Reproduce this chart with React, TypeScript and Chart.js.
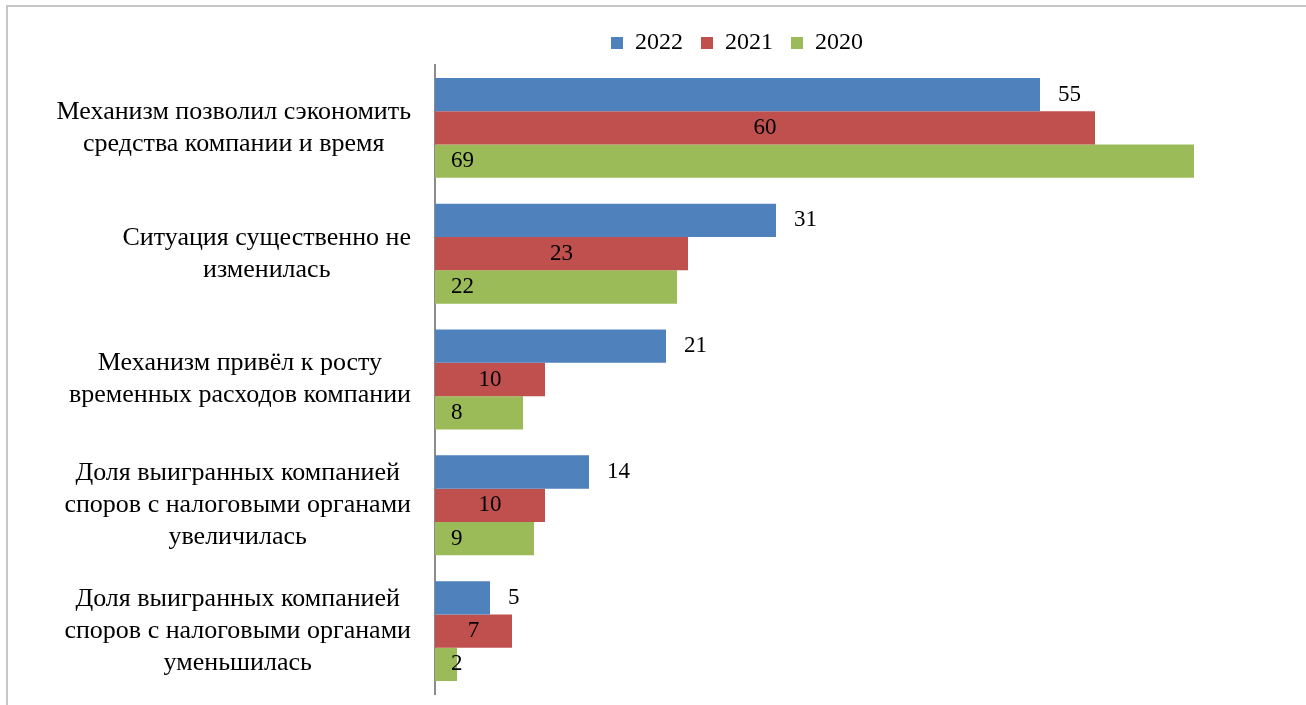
import React, { useEffect, useRef } from "react";
import { Chart, registerables } from "chart.js";

Chart.register(...registerables);

const categories: string[][] = [
  ["Механизм позволил сэкономить", "средства компании и время"],
  ["Ситуация существенно не", "изменилась"],
  ["Механизм привёл к росту", "временных расходов компании"],
  ["Доля выигранных компанией", "споров с налоговыми органами", "увеличилась"],
  ["Доля выигранных компанией", "споров с налоговыми органами", "уменьшилась"],
];
const seriesNames = ["2022", "2021", "2020"];
const values2022 = [55, 31, 21, 14, 5];
const values2021 = [60, 23, 10, 10, 7];
const values2020 = [69, 22, 8, 9, 2];
const colors = ["#4f81bd", "#c0504d", "#9bbb59"];

const FONT = "'Liberation Serif', 'DejaVu Serif', serif";
const CAT_FS = 26;
const VAL_FS = 23;
const LEG_FS = 24;
const PLOT_LEFT = 435;
const PAD_LEFT = 181;

const framePlugin = {
  id: "frame",
  beforeDraw(chart: any) {
    const ctx = chart.ctx;
    ctx.save();
    ctx.strokeStyle = "#c6c6c6";
    ctx.lineWidth = 2;
    ctx.strokeRect(7, 6, 1320, 720);
    ctx.restore();
  },
};

const labelsPlugin = {
  id: "customLabels",
  afterDraw(chart: any) {
    const ctx = chart.ctx;
    const yScale = chart.scales.y;
    ctx.save();
    ctx.fillStyle = "#000";
    ctx.textBaseline = "middle";
    ctx.font = `${CAT_FS}px ${FONT}`;
    ctx.textAlign = "center";
    const right = chart.chartArea.left - 24;
    const lh = 32;
    categories.forEach((lines, i) => {
      const yc = yScale.getPixelForValue(i);
      const w = Math.max(...lines.map((l) => ctx.measureText(l).width));
      const cx = right - w / 2;
      const y0 = yc - ((lines.length - 1) * lh) / 2;
      lines.forEach((l, j) => ctx.fillText(l, cx, y0 + j * lh));
    });
    ctx.font = `${VAL_FS}px ${FONT}`;
    chart.data.datasets.forEach((ds: any, di: number) => {
      const meta = chart.getDatasetMeta(di);
      meta.data.forEach((el: any, i: number) => {
        const v = String(ds.data[i]);
        if (di === 0) {
          ctx.textAlign = "left";
          ctx.fillText(v, el.x + 18, el.y);
        } else if (di === 1) {
          ctx.textAlign = "center";
          ctx.fillText(v, (el.x + el.base) / 2, el.y);
        } else {
          ctx.textAlign = "left";
          ctx.fillText(v, el.base + 16, el.y);
        }
      });
    });
    ctx.restore();
  },
};

export default function App() {
  const ref = useRef<HTMLCanvasElement>(null);
  useEffect(() => {
    document.body.style.margin = "0";
    const chart = new Chart(ref.current!, {
      type: "bar",
      data: {
        labels: categories.map((c) => c.join(" ")),
        datasets: [values2022, values2021, values2020].map((d, i) => ({
          label: seriesNames[i],
          data: d,
          backgroundColor: colors[i],
          borderWidth: 0,
          barPercentage: 1,
          categoryPercentage: 0.794,
        })),
      },
      options: {
        indexAxis: "y",
        animation: false,
        responsive: false,
        maintainAspectRatio: false,
        layout: { padding: { left: PAD_LEFT, right: 13, top: 13, bottom: 11 } },
        plugins: {
          legend: {
            position: "top",
            labels: {
              boxWidth: 12,
              boxHeight: 12,
              padding: 18,
              color: "#000",
              font: { family: FONT, size: LEG_FS },
            },
          },
          tooltip: { enabled: false },
        },
        scales: {
          x: { display: false, min: 0, max: 78 },
          y: {
            grid: { display: false },
            ticks: { display: false },
            border: { display: true, color: "#8c8c8c", width: 2 },
            afterFit: (scale: any) => {
              scale.width = PLOT_LEFT - PAD_LEFT;
            },
          },
        },
      },
      plugins: [framePlugin, labelsPlugin],
    });
    return () => chart.destroy();
  }, []);
  return <canvas ref={ref} width={1306} height={705} style={{ display: "block" }} />;
}
